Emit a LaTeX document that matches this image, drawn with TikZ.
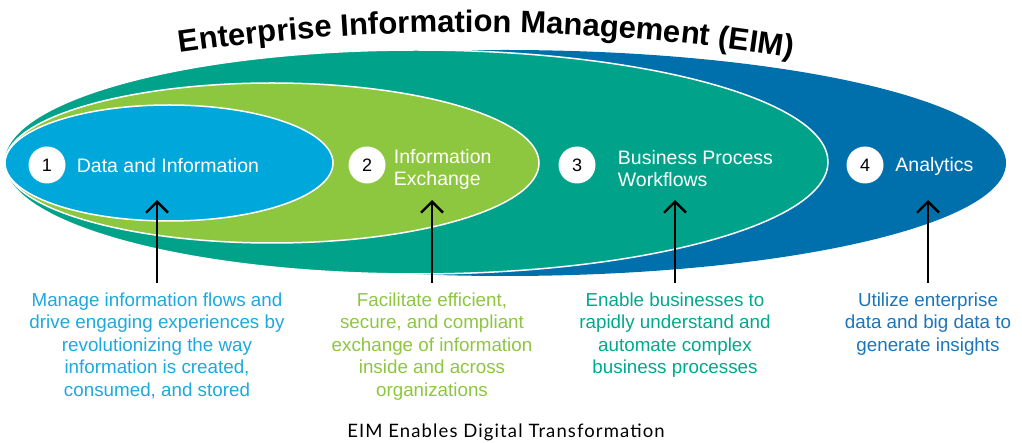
\documentclass[tikz,border=0pt]{standalone}
\usepackage{fontspec}
\setmainfont{Liberation Sans}
\newfontfamily\latofont[LetterSpace=6]{Lato}
\usetikzlibrary{positioning,arrows.meta,decorations.text}
\definecolor{eimblue}{RGB}{0,112,173}
\definecolor{eimteal}{RGB}{0,163,137}
\definecolor{eimgreen}{RGB}{141,198,63}
\definecolor{eimcyan}{RGB}{0,167,219}
\definecolor{txtblue}{RGB}{26,117,187}
\definecolor{txtteal}{RGB}{0,168,142}
\definecolor{txtcyan}{RGB}{27,169,223}
\newcommand\titlefont{\bfseries\fontsize{31}{31}\selectfont}
\begin{document}
\begin{tikzpicture}[x=1pt,y=-1pt,line join=round,
	numcirc/.style={circle,fill=white,minimum size=37pt,inner sep=0pt,font=\fontsize{18}{18}\selectfont},
	lbl/.style={text=white,align=left,inner sep=0pt,font=\fontsize{19.5}{22}\selectfont},
	desc/.style={align=center,inner sep=0pt,anchor=north,font=\fontsize{18.8}{22.5}\selectfont},
	uparrow/.style={line width=2.4pt,-{Straight Barb[length=11pt,width=22pt]}},
	rim/.style={draw=white,line width=1.5pt}]
	\useasboundingbox (0,0) rectangle (1022,443);
	%==the four ellipses
	\fill[eimblue] (505,163) ellipse (501pt and 113pt);
	\filldraw[rim,fill=eimteal] (416,162) ellipse (412pt and 112pt);
	\filldraw[rim,fill=eimgreen] (272,163) ellipse (267pt and 80pt);
	\filldraw[rim,fill=eimcyan] (169,163) ellipse (164pt and 58pt);
	%==title on the arc
	\path[decorate,decoration={text along path,text align=center,
		text={|\titlefont|Enterprise Information Management (EIM)}}]
		(150,57.1) .. controls (374,22) and (598,23.7) .. (822,62.4);
	%==numbers and labels
	\node[numcirc] (n1) at (47,165) {1};
	\node[lbl,right=11pt of n1,yshift=-1pt] (l1) {Data and Information};
	\node[numcirc] (n2) at (367,165) {2};
	\node[lbl,right=8pt of n2,yshift=-4pt] (l2) {Information\\Exchange};
	\node[numcirc] (n3) at (577,165) {3};
	\node[lbl,right=22pt of n3,yshift=-4pt] (l3) {Business Process\\Workflows};
	\node[numcirc] (n4) at (865,165) {4};
	\node[lbl,right=11.5pt of n4,yshift=-1pt] (l4) {Analytics};
	%==descriptions
	\node[desc,text=txtcyan] (d1) at (157,292.5) {Manage information flows and\\drive engaging experiences by\\revolutionizing the way\\information is created,\\consumed, and stored};
	\node[desc,text=eimgreen] (d2) at (432,292.5) {Facilitate efficient,\\secure, and compliant\\exchange of information\\inside and across\\organizations};
	\node[desc,text=txtteal] (d3) at (675,292.5) {Enable businesses to\\rapidly understand and\\automate complex\\business processes};
	\node[desc,text=txtblue] (d4) at (928,292.5) {Utilize enterprise\\data and big data to\\generate insights};
	%==arrows
	\coordinate (t1) at (157,200);
	\coordinate (t2) at (432,200);
	\coordinate (t3) at (675,200);
	\coordinate (t4) at (928,200);
	\foreach \i in {1,2,3,4}{\draw[uparrow] ([yshift=9.5pt]d\i.north)--(t\i);}
	%==caption
	\node[font=\latofont\fontsize{18.5}{18.5}\selectfont] (cap) at (506,432) {EIM Enables Digital Transformation};
\end{tikzpicture}
\end{document}
